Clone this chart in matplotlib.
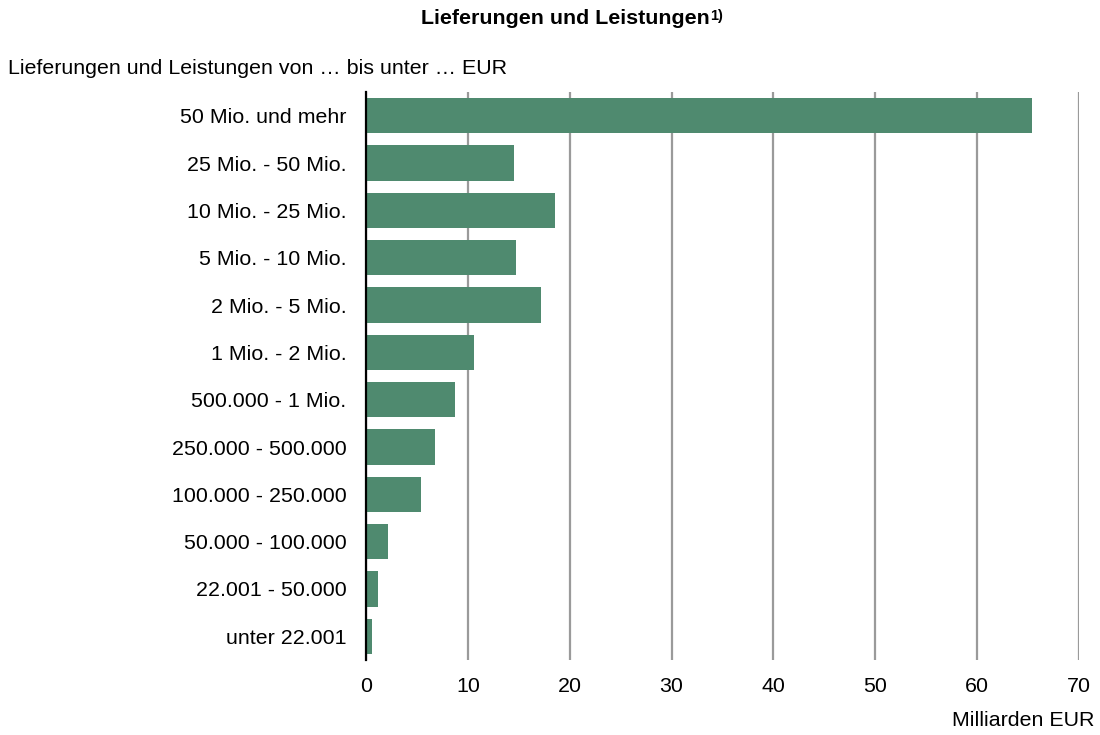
import matplotlib
matplotlib.use('Agg')
import matplotlib.pyplot as plt

plt.rcParams['font.family'] = ['Liberation Sans', 'DejaVu Sans']

# Größenklassen (von oben nach unten) und Werte in Mrd. EUR
klassen = ['50 Mio. und mehr', '25 Mio. - 50 Mio.', '10 Mio. - 25 Mio.',
           '5 Mio. - 10 Mio.', '2 Mio. - 5 Mio.', '1 Mio. - 2 Mio.',
           '500.000 - 1 Mio.', '250.000 - 500.000', '100.000 - 250.000',
           '50.000 - 100.000', '22.001 - 50.000', 'unter 22.001']
werte = [65.4, 14.5, 18.6, 14.7, 17.2, 10.6, 8.7, 6.8, 5.4, 2.2, 1.2, 0.6]
x_ticks = [0, 10, 20, 30, 40, 50, 60, 70]

W, H = 1100, 735
FS = 15.4
fig = plt.figure(figsize=(W / 100, H / 100), dpi=100)
ax = fig.add_axes([366 / W, 1 - 660 / H, (1079 - 366) / W, (660 - 92) / H])

pos = list(range(len(klassen)))
ax.barh(pos, werte, height=0.74, color='#4f8a6f', zorder=2)
ax.set_ylim(len(klassen) - 0.5, -0.5)
ax.set_xlim(0, 70)
ax.set_yticks(pos)
ax.set_yticklabels(klassen, fontsize=FS)
ax.set_xticks(x_ticks)
ax.set_xticklabels([str(t) for t in x_ticks], fontsize=FS)
ax.tick_params(axis='y', length=0, pad=14)
ax.tick_params(axis='x', length=0, pad=12)

ax.grid(axis='x', color='#9a9a9a', linewidth=1.6, zorder=1)
ax.set_axisbelow(True)
for s in ['top', 'right', 'bottom']:
    ax.spines[s].set_visible(False)
ax.spines['left'].set_linewidth(1.6)
ax.spines['left'].set_color('black')
ax.spines['left'].set_zorder(3)

title = fig.text(421 / W, 1 - 19 / H, 'Lieferungen und Leistungen',
                 fontsize=FS, fontweight='bold', ha='left', va='center')
fig.canvas.draw()
ax.annotate('1)', xy=(1, 1), xycoords=title, xytext=(0, 0.5),
            textcoords='offset points', fontsize=10.5, fontweight='bold',
            ha='left', va='top')

fig.text(8 / W, 1 - 68 / H, 'Lieferungen und Leistungen von \u2026 bis unter \u2026 EUR',
         fontsize=FS, ha='left', va='center')
fig.text(1094 / W, 1 - 720 / H, 'Milliarden EUR', fontsize=FS,
         ha='right', va='center')

fig.savefig('out.png', dpi=100)
